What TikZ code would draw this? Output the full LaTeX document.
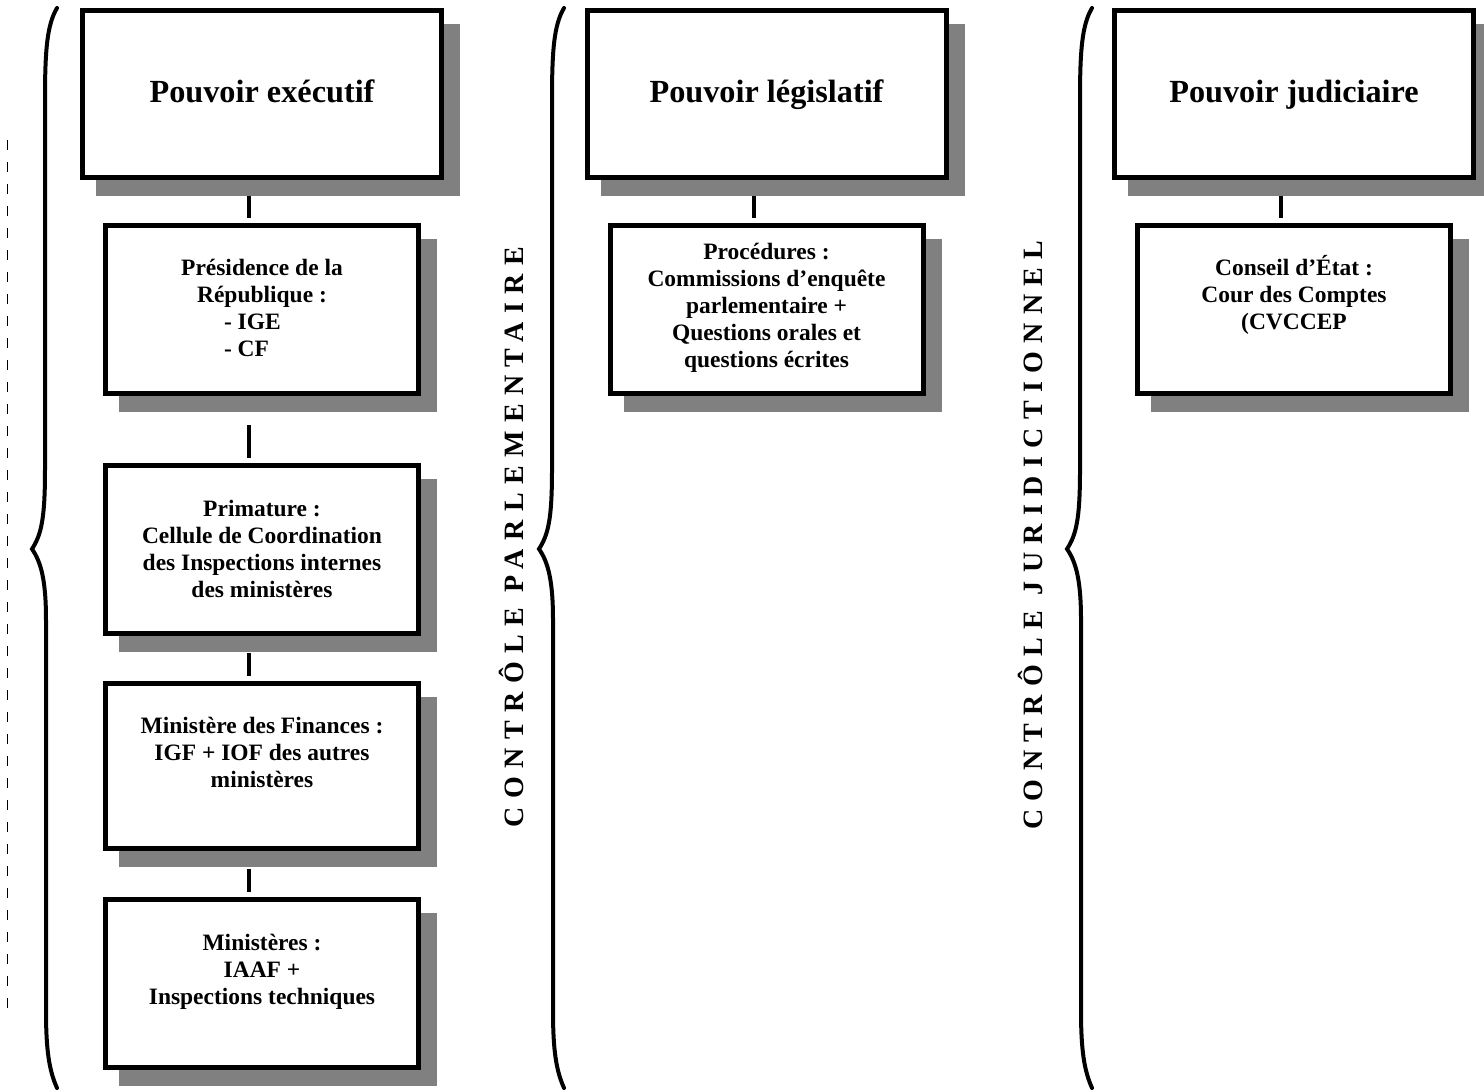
\documentclass[tikz,border=0pt]{standalone}
\usepackage{fontspec}
\setmainfont{Liberation Serif}
\newfontfamily\spacedfont[LetterSpace=30]{Liberation Serif}
\usetikzlibrary{positioning,backgrounds}
\definecolor{shadowgray}{RGB}{128,128,128}

\begin{document}
\begin{tikzpicture}[x=0.75pt,y=0.75pt,yscale=-1,xscale=1,
  bigbox/.style={draw, line width=3.75pt, fill=white, inner sep=0pt, outer sep=1.875pt,
    minimum width=269.25pt, minimum height=125.25pt,
    font=\fontsize{24.2}{28}\selectfont\bfseries, text height=17pt, text depth=4.8pt},
  smallbox/.style={draw, line width=3.75pt, fill=white, inner sep=0pt, outer sep=1.875pt,
    minimum width=234.75pt, minimum height=126pt},
  boxtext/.style={align=center, inner sep=0pt, font=\fontsize{17.6}{20.25}\selectfont\bfseries},
  link/.style={line width=3pt, shorten >=4pt},
  brace/.style={line width=3pt, line cap=round},
  vlabel/.style={rotate=90, inner sep=0pt, font=\spacedfont\bfseries\fontsize{21}{24}\selectfont}]
\useasboundingbox (0,0) rectangle (1484,1091);

%Shape: Dashed line
\draw[line width=0.75pt, dash pattern=on 7.5pt off 9pt] (7,140) -- (7,1012);

%Shape: Braces
\foreach \bx in {45,552,1080}
  \draw[brace] ({\bx+12},8) .. controls ({\bx+2},25) and (\bx,50) .. (\bx,100) -- (\bx,470)
    .. controls (\bx,520) and ({\bx-4},535) .. ({\bx-13},549)
    .. controls ({\bx-4},562) and ({\bx+1},580) .. ({\bx+1},620) -- ({\bx+1},1010)
    .. controls ({\bx+1},1050) and ({\bx+4},1070) .. ({\bx+12},1088);

%Shape: Top boxes
\node[bigbox] (exec) at (262,94) {Pouvoir exécutif};
\node[bigbox] (legis) at (766.5,94) {Pouvoir législatif};
\node[bigbox] (judic) at (1294,94) {Pouvoir judiciaire};

%Shape: Executive column
\node[smallbox, below=32.25pt of exec] (presid) {};
\node[smallbox, below=50.25pt of presid] (primat) {};
\node[smallbox, below=33.75pt of primat, minimum height=123.75pt] (finance) {};
\node[smallbox, below=34.5pt of finance] (minist) {};

%Shape: Legislative and judicial boxes
\node[smallbox, below=32.25pt of legis] (proced) {};
\node[smallbox, below=32.25pt of judic] (conseil) {};

% Text Node
\node[boxtext, below=27pt of presid.north] (presidtxt) {Présidence de la\\République :\\\makebox[57pt][l]{- IGE}\\\makebox[57pt][l]{- CF}};
% Text Node
\node[boxtext, below=27.75pt of primat.north] (primattxt) {Primature :\\Cellule de Coordination\\des Inspections internes\\des ministères};
% Text Node
\node[boxtext, below=27pt of finance.north] (financetxt) {Ministère des Finances :\\IGF + IOF des autres\\ministères};
% Text Node
\node[boxtext, below=27.75pt of minist.north] (ministtxt) {Ministères :\\IAAF +\\Inspections techniques};
% Text Node
\node[boxtext, below=15pt of proced.north] (procedtxt) {Procédures :\\Commissions d’enquête\\parlementaire +\\Questions orales et\\questions écrites};
% Text Node
\node[boxtext, below=24pt of conseil.north] (conseiltxt) {Conseil d’État :\\Cour des Comptes\\(CVCCEP};

% Text Node
\node[vlabel] (ctrlparl) at (511,537) {CONTRÔLE PARLEMENTAIRE};
% Text Node
\node[vlabel] (ctrljur) at (1030,535) {CONTRÔLE JURIDICTIONNEL};

%Shape: Shadows and links
\begin{scope}[on background layer]
  \foreach \b in {exec,legis,judic,presid,primat,finance,minist,proced,conseil}
    \fill[shadowgray] ([shift={(16,16)}]\b.north west) rectangle ([shift={(16,16)}]\b.south east);
  \foreach \a/\b/\s in {exec/presid/12pt, presid/primat/21.75pt, primat/finance/12.75pt,
      finance/minist/13.5pt, legis/proced/12pt, judic/conseil/12pt}
    \draw[link, shorten <=\s] ([xshift=-9.4pt]\a.south) -- ([xshift=-9.4pt]\b.north);
\end{scope}

\end{tikzpicture}
\end{document}
